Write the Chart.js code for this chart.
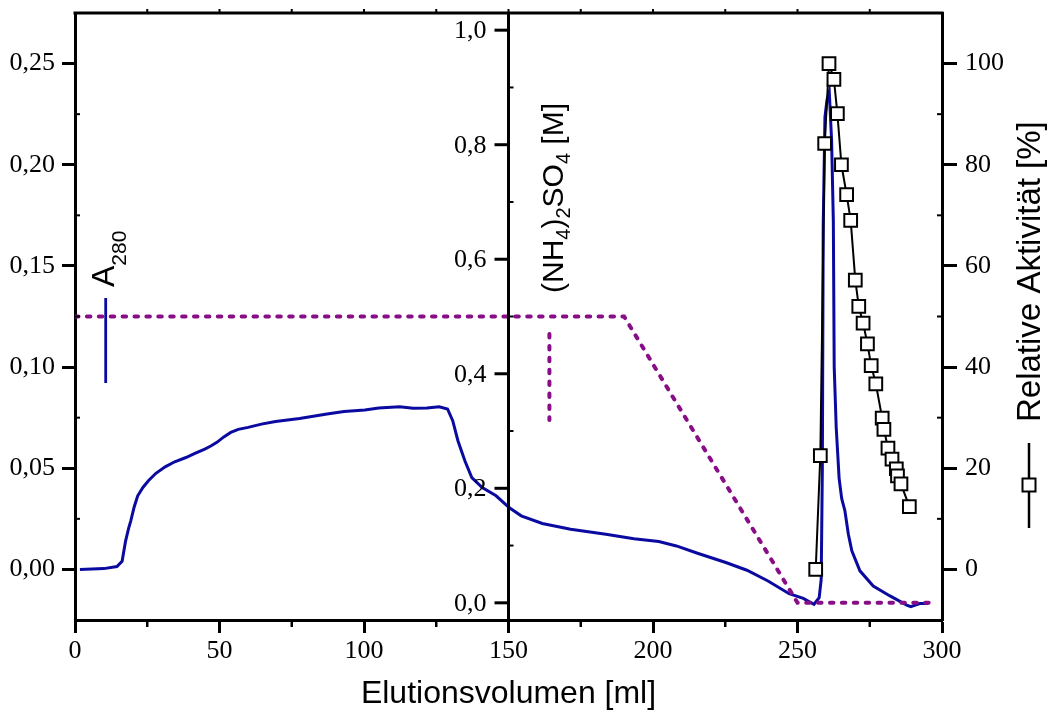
<!DOCTYPE html>
<html>
<head>
<meta charset="utf-8">
<script src="https://cdn.jsdelivr.net/npm/chart.js@4/dist/chart.umd.min.js"></script>
<style>
  html, body { margin: 0; padding: 0; background: #fff; }
  canvas { display: block; }
</style>
</head>
<body>
<canvas id="c" width="1053" height="711"></canvas>
<script>
// A280 trace: elution volume [ml] and absorbance
const a280Volume = [1.7, 10, 14.5, 16.3, 17.5, 18.5, 19.3, 20.5, 21.7, 23.5, 25.4, 28, 31.2, 34.5, 38.4,
  41.5, 44.9, 47, 49.1, 51.5, 53.9, 56.5, 59.9, 64.5, 69.4, 77.7, 87.2, 93.1, 100.3, 105.1, 112.3, 117,
  121.8, 126, 128.9, 130.7, 132.5, 134.9, 137.3, 140.9, 145.7, 150.2, 154.4, 161.7, 171.5, 183.7,
  193.4, 202, 208.1, 215.4, 225.2, 232.5, 239.8, 247.1, 252, 255.7, 257.5, 258.2, 258.6, 258.9, 259.5,
  260.2, 261, 261.8, 262.4, 262.7, 263.4, 264.4, 265.3, 266.4, 267.6, 268.8, 271.6, 276.2, 282, 287.8,
  289.2, 292.3, 295.3];
const a280Values = [0, 0.0004, 0.0014, 0.004, 0.014, 0.020, 0.024, 0.031, 0.0364, 0.0405, 0.0438,
  0.0475, 0.0507, 0.0532, 0.0553, 0.0573, 0.0595, 0.061, 0.0628, 0.0655, 0.0677, 0.0692, 0.0702,
  0.0718, 0.0731, 0.0746, 0.0768, 0.0781, 0.0788, 0.0798, 0.0804, 0.0796, 0.0798, 0.0804, 0.0793,
  0.0735, 0.0636, 0.0537, 0.0454, 0.0405, 0.0364, 0.0306, 0.0265, 0.0227, 0.0199, 0.0174, 0.0152,
  0.0138, 0.0116, 0.008, 0.0034, -0.0004, -0.0057, -0.012, -0.0143, -0.0172, -0.014, -0.005, 0.05,
  0.17, 0.2235, 0.232, 0.236, 0.212, 0.172, 0.10, 0.07, 0.045, 0.035, 0.029, 0.0174, 0.0092, -0.0007,
  -0.0082, -0.0131, -0.0176, -0.0184, -0.0169, -0.0169];

// (NH4)2SO4 programme [M]
const saltVolume = [0, 190, 250, 295.5];
const saltValues = [0.5, 0.5, 0, 0];

// Relative activity of the fractions [%]
const activityVolume = [256.3, 257.9, 259.4, 260.9, 262.6, 263.8, 265.2, 267, 268.4, 270, 271.2,
  272.7, 274.2, 275.5, 277.1, 279.3, 279.9, 281.3, 282.7, 284.2, 284.6, 285.8, 288.7];
const activityValues = [0, 22.5, 84.2, 100, 96.9, 90.1, 80, 74.1, 69, 57.2, 52, 48.7, 44.6, 40.3,
  36.7, 29.9, 27.7, 24, 21.8, 19.9, 18.5, 16.9, 12.4];

// Axis ticks
const xTicks = [0, 50, 100, 150, 200, 250, 300];
const xTickLabels = ['0', '50', '100', '150', '200', '250', '300'];
const xMinorTicks = [25, 75, 125, 175, 225, 275];
const topTicks = [25, 50, 75, 100, 125, 150, 175, 200, 225, 250, 275];
const a280Ticks = [0, 0.05, 0.10, 0.15, 0.20, 0.25];
const a280TickLabels = ['0,00', '0,05', '0,10', '0,15', '0,20', '0,25'];
const a280MinorTicks = [0.025, 0.075, 0.125, 0.175, 0.225];
const saltTicks = [0, 0.2, 0.4, 0.6, 0.8, 1.0];
const saltTickLabels = ['0,0', '0,2', '0,4', '0,6', '0,8', '1,0'];
const saltMinorTicks = [0.1, 0.3, 0.5, 0.7, 0.9];
const activityTicks = [0, 20, 40, 60, 80, 100];
const activityTickLabels = ['0', '20', '40', '60', '80', '100'];
const activityMinorTicks = [10, 30, 50, 70, 90];

const BLUE = '#0A0AA0';
const PURPLE = '#880E88';
const SERIF = '"Liberation Serif", "Times New Roman", serif';
const SANS = '"Liberation Sans", Arial, sans-serif';
const SALT_DASH = [3.5, 8.4];
const TICK_FONT = { family: SERIF, size: 26 };

const pts = (xs, ys) => xs.map((x, i) => ({ x, y: ys[i] }));
const fixedTicks = values => scale => { scale.ticks = values.map(v => ({ value: v })); };
const fixedWidth = w => s => { s.width = w; s.paddingTop = 0; s.paddingBottom = 0; };
const fixedHeight = h => s => { s.height = h; s.paddingLeft = 0; s.paddingRight = 0; };

function axisStyle(tickLength) {
  return {
    grid: { drawOnChartArea: false, drawTicks: true, tickLength, tickWidth: 3, tickColor: '#000' },
    border: { display: true, width: 3, color: '#000' }
  };
}

function line(ctx, x1, y1, x2, y2, width, color) {
  ctx.beginPath();
  ctx.lineWidth = width;
  ctx.strokeStyle = color;
  ctx.moveTo(x1, y1);
  ctx.lineTo(x2, y2);
  ctx.stroke();
}

// Rotated (bottom-to-top) text made of runs; shift moves a run below the baseline
function rotatedText(ctx, x, y, parts) {
  ctx.save();
  ctx.translate(x, y);
  ctx.rotate(-Math.PI / 2);
  ctx.fillStyle = '#000';
  ctx.textAlign = 'left';
  ctx.textBaseline = 'alphabetic';
  let u = 0;
  for (const p of parts) {
    ctx.font = p.size + 'px ' + SANS;
    ctx.fillText(p.text, u, p.shift || 0);
    u += ctx.measureText(p.text).width;
  }
  ctx.restore();
}

const whiteBackground = {
  id: 'whiteBackground',
  beforeDraw(chart) {
    const ctx = chart.ctx;
    ctx.save();
    ctx.fillStyle = '#fff';
    ctx.fillRect(0, 0, chart.width, chart.height);
    ctx.restore();
  }
};

const frameAndLabels = {
  id: 'frameAndLabels',
  afterDraw(chart) {
    const ctx = chart.ctx;
    const { left, right, top, bottom } = chart.chartArea;
    const sx = chart.scales.x, sA = chart.scales.yA, sS = chart.scales.yS, sR = chart.scales.yR;
    ctx.save();
    ctx.lineCap = 'butt';

    // top frame with small outward ticks
    line(ctx, left - 1.5, top, right + 1.5, top, 3, '#000');
    topTicks.forEach(v => { const px = sx.getPixelForValue(v); line(ctx, px, top, px, top - 4, 2, '#000'); });

    // minor ticks
    xMinorTicks.forEach(v => { const px = sx.getPixelForValue(v); line(ctx, px, bottom, px, bottom + 7, 2.5, '#000'); });
    a280MinorTicks.forEach(v => { const py = sA.getPixelForValue(v); line(ctx, left, py, left + 5, py, 2, '#000'); });
    activityMinorTicks.forEach(v => { const py = sR.getPixelForValue(v); line(ctx, right, py, right - 5, py, 2, '#000'); });

    // (NH4)2SO4 axis standing at 150 ml
    const ax = sx.getPixelForValue(150);
    line(ctx, ax, top, ax, bottom, 3, '#000');
    ctx.font = TICK_FONT.size + 'px ' + SERIF;
    ctx.fillStyle = '#000';
    ctx.textAlign = 'right';
    ctx.textBaseline = 'middle';
    saltTicks.forEach((v, i) => {
      const py = sS.getPixelForValue(v);
      line(ctx, ax - 14, py, ax, py, 3, '#000');
      ctx.fillText(saltTickLabels[i], ax - 22, py + 1);
    });
    saltMinorTicks.forEach(v => { const py = sS.getPixelForValue(v); line(ctx, ax, py, ax + 5, py, 2, '#000'); });

    // axis titles
    ctx.font = '32px ' + SANS;
    ctx.textAlign = 'center';
    ctx.textBaseline = 'alphabetic';
    ctx.fillText('Elutionsvolumen [ml]', (left + right) / 2, 703);

    rotatedText(ctx, 114, 287, [
      { text: 'A', size: 32 },
      { text: '280', size: 21, shift: 12 }
    ]);
    rotatedText(ctx, 563, 293, [
      { text: '(NH', size: 30 },
      { text: '4', size: 20, shift: 7 },
      { text: ')', size: 30 },
      { text: '2', size: 20, shift: 7 },
      { text: 'SO', size: 30 },
      { text: '4', size: 20, shift: 7 },
      { text: ' [M]', size: 30 }
    ]);
    rotatedText(ctx, 1040, 422, [{ text: 'Relative Aktivität [%]', size: 33 }]);

    // series keys beside the titles
    line(ctx, 105.7, 298, 105.7, 383, 2.8, BLUE);
    ctx.save();
    ctx.setLineDash(SALT_DASH);
    ctx.lineCap = 'round';
    line(ctx, 549.4, 334, 549.4, 420, 4, PURPLE);
    ctx.restore();
    line(ctx, 1029, 443, 1029, 528, 2.5, '#000');
    ctx.fillStyle = '#fff';
    ctx.fillRect(1022.5, 478.5, 13, 13);
    ctx.lineWidth = 2;
    ctx.strokeStyle = '#000';
    ctx.strokeRect(1022.5, 478.5, 13, 13);

    ctx.restore();
  }
};

new Chart(document.getElementById('c'), {
  type: 'line',
  data: {
    datasets: [
      {
        label: 'Relative Aktivität [%]',
        data: pts(activityVolume, activityValues),
        yAxisID: 'yR',
        borderColor: '#000',
        borderWidth: 2,
        pointStyle: 'rect',
        pointRadius: 9,
        pointBorderWidth: 2,
        pointBorderColor: '#000',
        pointBackgroundColor: '#fff',
        tension: 0
      },
      {
        label: '(NH4)2SO4 [M]',
        data: pts(saltVolume, saltValues),
        yAxisID: 'yS',
        borderColor: PURPLE,
        borderWidth: 4,
        borderDash: SALT_DASH,
        borderCapStyle: 'round',
        pointRadius: 0,
        tension: 0
      },
      {
        label: 'A280',
        data: pts(a280Volume, a280Values),
        yAxisID: 'yA',
        borderColor: BLUE,
        borderWidth: 3,
        pointRadius: 0,
        tension: 0
      }
    ]
  },
  options: {
    responsive: false,
    animation: false,
    devicePixelRatio: 1,
    layout: { padding: { top: 13, left: 0, right: 0, bottom: 0 } },
    plugins: { legend: { display: false }, tooltip: { enabled: false } },
    scales: {
      x: {
        type: 'linear', min: 0, max: 300,
        afterBuildTicks: fixedTicks(xTicks),
        afterFit: fixedHeight(91),
        ticks: { callback: (v, i) => xTickLabels[i], font: TICK_FONT, color: '#000',
                 padding: 3, maxRotation: 0, autoSkip: false },
        ...axisStyle(13)
      },
      yA: {
        type: 'linear', position: 'left', min: -0.025, max: 0.275,
        afterBuildTicks: fixedTicks(a280Ticks),
        afterFit: fixedWidth(75),
        ticks: { callback: (v, i) => a280TickLabels[i], font: TICK_FONT, color: '#000',
                 padding: 7, autoSkip: false },
        ...axisStyle(13)
      },
      yS: {
        type: 'linear', display: false, min: -0.03, max: 1.03
      },
      yR: {
        type: 'linear', position: 'right', min: -10, max: 110,
        afterBuildTicks: fixedTicks(activityTicks),
        afterFit: fixedWidth(111),
        ticks: { callback: (v, i) => activityTickLabels[i], font: TICK_FONT, color: '#000',
                 padding: 8, autoSkip: false },
        ...axisStyle(15)
      }
    }
  },
  plugins: [whiteBackground, frameAndLabels]
});
</script>
</body>
</html>
